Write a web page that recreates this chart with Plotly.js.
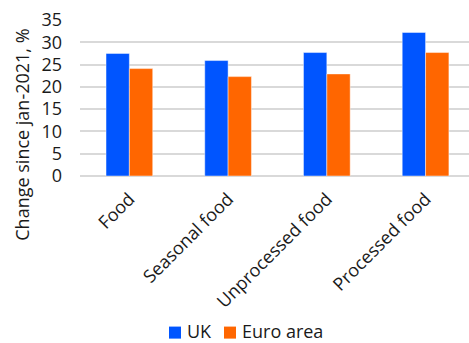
<!DOCTYPE html>
<html>
<head>
<meta charset="utf-8">
<script src="https://cdn.plot.ly/plotly-3.0.1.min.js"></script>
<style>html,body{margin:0;padding:0;background:#fff;overflow:hidden}#chart{width:469px;height:343px}</style>
</head>
<body>
<div id="chart"></div>
<script>
var categories = ["Food", "Seasonal food", "Unprocessed food", "Processed food"];
var ukValues = [27.5, 25.9, 27.7, 32.2];
var euroValues = [24.1, 22.3, 22.9, 27.7];
var seriesNames = ["UK", "Euro area"];
var seriesColors = ["#0055FF", "#FF6600"];
var yTicks = [0, 5, 10, 15, 20, 25, 30, 35];

var fontFamily = "'Open Sans', 'Noto Sans', sans-serif";
var textColor = "#1a1a1a";
var barLine = {color: "rgba(255,255,255,0.45)", width: 1};
var data = [
  {type: "bar", name: seriesNames[0], x: categories, y: ukValues,
   marker: {color: seriesColors[0], line: barLine}},
  {type: "bar", name: seriesNames[1], x: categories, y: euroValues,
   marker: {color: seriesColors[1], line: barLine}}
];

// pixel helpers for the hand-placed legend and y title (plot area: x 80..469, y 20..175.7)
var L = 80, T = 20, W = 389, H = 155.7;
function px(x) { return (x - L) / W; }
function py(y) { return (T + H - y) / H; }

var legendSpec = [
  {sq: 169, tx: 185},
  {sq: 224, tx: 240}
];
var shapes = [], annotations = [];
legendSpec.forEach(function (s, i) {
  shapes.push({type: "rect", xref: "paper", yref: "paper",
    x0: px(s.sq), x1: px(s.sq + 12), y0: py(338), y1: py(326),
    fillcolor: seriesColors[i], line: {width: 0}});
  annotations.push({xref: "paper", yref: "paper", x: px(s.tx), y: py(330.5),
    xanchor: "left", yanchor: "middle", showarrow: false, text: seriesNames[i],
    font: {size: 18, color: textColor}});
});
annotations.push({xref: "paper", yref: "paper", x: px(22), y: py(134.5),
  xanchor: "center", yanchor: "middle", textangle: -90, showarrow: false,
  text: "Change since jan-2021, %", font: {size: 18, color: textColor}});

var layout = {
  width: 469, height: 343,
  margin: {l: 80, r: 0, t: 20, b: 167.3, pad: 0},
  paper_bgcolor: "#fff", plot_bgcolor: "#fff",
  font: {family: fontFamily, size: 18, color: textColor},
  barmode: "group", bargap: 0.527, bargroupgap: 0,
  showlegend: false,
  shapes: shapes, annotations: annotations,
  xaxis: {type: "category", range: [-0.5, 3.44], tickangle: -45, showgrid: false,
          showline: false, zeroline: false, ticks: "", automargin: false,
          ticklabelstandoff: 8},
  yaxis: {range: [0, 35], tickvals: yTicks, showgrid: true, gridcolor: "#d9d9d9", gridwidth: 2,
          zeroline: true, zerolinecolor: "#d9d9d9", zerolinewidth: 2, showline: false,
          ticks: "", automargin: false, ticklabelstandoff: 17}
};
Plotly.newPlot("chart", data, layout, {staticPlot: true, displayModeBar: false});
</script>
</body>
</html>
